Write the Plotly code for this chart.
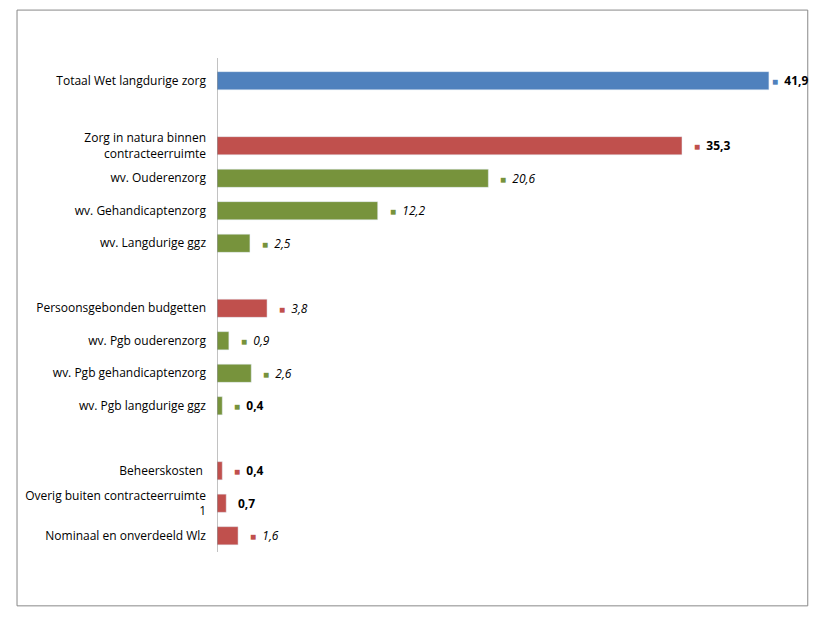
import plotly.graph_objects as go

# rows (top to bottom); blank strings are spacer rows
labels = ["Totaal Wet langdurige zorg", "",
          "Zorg in natura binnen<br>contracteerruimte", "wv. Ouderenzorg",
          "wv. Gehandicaptenzorg", "wv. Langdurige ggz", "",
          "Persoonsgebonden budgetten", "wv. Pgb ouderenzorg",
          "wv. Pgb gehandicaptenzorg", "wv. Pgb langdurige ggz", "",
          "Beheerskosten ", "Overig buiten contracteerruimte<br>1",
          "Nominaal en onverdeeld Wlz"]
values = [41.9, None, 35.3, 20.6, 12.2, 2.5, None, 3.8, 0.9, 2.6, 0.4, None, 0.4, 0.7, 1.6]
value_text = ["41,9", "", "35,3", "20,6", "12,2", "2,5", "", "3,8", "0,9", "2,6", "0,4", "", "0,4", "0,7", "1,6"]
kind = ["tot", "", "main", "sub", "sub", "sub", "", "main", "sub", "sub", "sub", "", "main", "main", "main"]
style = ["b", "", "b", "i", "i", "i", "", "i", "i", "i", "b", "", "b", "b", "i"]
has_key = [True, False, True, True, True, True, False, True, True, True, True, False, True, False, True]

colors = {"tot": "#4F81BD", "main": "#C0504D", "sub": "#77933C"}

rows = [i for i, v in enumerate(values) if v is not None]

fig = go.Figure(go.Bar(
    x=[values[i] for i in rows], y=rows, orientation="h", width=0.56,
    marker_color=[colors[kind[i]] for i in rows], hoverinfo="skip"))

for i in rows:
    txt = f"<{style[i]}>{value_text[i]}</{style[i]}>"
    if has_key[i]:
        txt = f"<span style='color:{colors[kind[i]]};font-size:10px'>■</span>  " + txt
    fig.add_annotation(x=values[i], y=i, text=txt, showarrow=False,
                       xanchor="left", xshift=1 if i == 0 else 10,
                       font=dict(size=12, color="black"))

fig.add_shape(type="rect", xref="paper", yref="paper",
              x0=-0.349, x1=1.031, y0=-0.109, y1=1.097,
              line=dict(color="#888888", width=1))

fig.update_layout(
    width=807, height=602, plot_bgcolor="white", paper_bgcolor="white",
    margin=dict(l=209, r=25, t=50, b=58), showlegend=False,
    font=dict(family="Open Sans, Liberation Sans", size=12, color="black"),
    xaxis=dict(range=[0, 43.5], visible=False, fixedrange=True),
    yaxis=dict(range=[14.5, -0.7], tickvals=list(range(len(labels))), ticktext=labels,
               showgrid=False, zeroline=False, showline=False, ticks="",
               ticklabelstandoff=10, tickfont=dict(size=12, color="black")),
)
fig.add_shape(type="line", xref="x", yref="paper", x0=0, x1=0, y0=0, y1=1,
              line=dict(color="#868686", width=1))

fig.write_html("out.html")
